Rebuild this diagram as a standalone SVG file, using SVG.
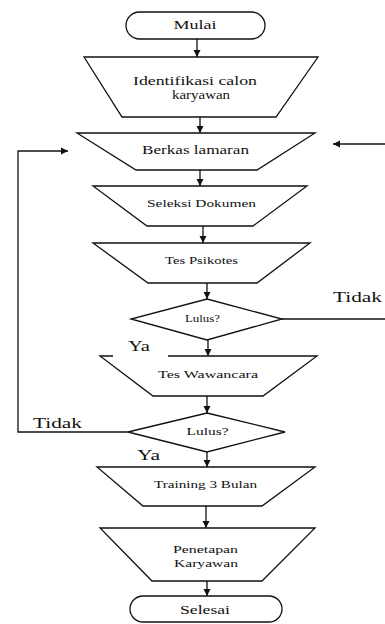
<svg xmlns="http://www.w3.org/2000/svg" width="385" height="624" viewBox="0 0 385 624">
<style>
.s{fill:#fff;stroke:#111;stroke-width:1.3}
.c{fill:none;stroke:#111;stroke-width:1.3}
.t{fill:#111;text-anchor:middle}
.lbl{font-size:15px;fill:#111}
</style>
<defs>
<marker id="ah" markerWidth="8" markerHeight="8" refX="7" refY="4" orient="auto" markerUnits="userSpaceOnUse">
<path d="M0,0.5 L7,4 L0,7.5 Z" fill="#111"/>
</marker>
</defs>
<g id="connectors">
<line class="c" x1="197" y1="39" x2="197" y2="57" marker-end="url(#ah)"/>
<line class="c" x1="200" y1="117" x2="200" y2="133" marker-end="url(#ah)"/>
<line class="c" x1="200" y1="170" x2="200" y2="186" marker-end="url(#ah)"/>
<line class="c" x1="203" y1="226" x2="203" y2="243" marker-end="url(#ah)"/>
<line class="c" x1="207" y1="283" x2="207" y2="299" marker-end="url(#ah)"/>
<line class="c" x1="208" y1="340" x2="208" y2="356" marker-end="url(#ah)"/>
<line class="c" x1="207" y1="396" x2="207" y2="413" marker-end="url(#ah)"/>
<line class="c" x1="207" y1="452" x2="207" y2="467" marker-end="url(#ah)"/>
<line class="c" x1="206" y1="506" x2="206" y2="528" marker-end="url(#ah)"/>
<line class="c" x1="207" y1="581" x2="207" y2="596" marker-end="url(#ah)"/>
<line class="c" x1="282" y1="319" x2="385" y2="319"/>
<line class="c" x1="385" y1="144" x2="333" y2="144" marker-end="url(#ah)"/>
<polyline class="c" points="128,432 18,432 18,151 68,151" marker-end="url(#ah)"/>
</g>
<g font-family="Liberation Serif, DejaVu Serif, serif">
<g id="mulai"><rect class="s" x="126" y="12" width="139" height="27" rx="13.5"/><text class="t" x="195" y="29" font-size="13" textLength="43" lengthAdjust="spacingAndGlyphs">Mulai</text></g>
<g id="identifikasi"><polygon class="s" points="84,57 318,57 276,117 122,117"/><text class="t" x="195" y="85" font-size="12.5" textLength="124" lengthAdjust="spacingAndGlyphs">Identifikasi calon</text><text class="t" x="201" y="99" font-size="12.5" textLength="58" lengthAdjust="spacingAndGlyphs">karyawan</text></g>
<g id="berkas"><polygon class="s" points="77,133 315,133 257,170 136,170"/><text class="t" x="195.5" y="154" font-size="12.5" textLength="107" lengthAdjust="spacingAndGlyphs">Berkas lamaran</text></g>
<g id="seleksi"><polygon class="s" points="93,186 307,186 253,226 147,226"/><text class="t" x="201.5" y="207" font-size="11" textLength="109" lengthAdjust="spacingAndGlyphs">Seleksi Dokumen</text></g>
<g id="psikotes"><polygon class="s" points="93,243 310,243 257,283 148,283"/><text class="t" x="201.5" y="264" font-size="11" textLength="73" lengthAdjust="spacingAndGlyphs">Tes Psikotes</text></g>
<g id="lulus1"><polygon class="s" points="207,299 282,319 207,340 131,319"/><text class="t" x="202.5" y="322" font-size="10" textLength="35" lengthAdjust="spacingAndGlyphs">Lulus?</text></g>
<g id="wawancara"><polygon class="s" points="100,356 317,356 263,396 153,396"/><text class="t" x="208" y="378" font-size="11" textLength="100" lengthAdjust="spacingAndGlyphs">Tes Wawancara</text></g>
<g id="lulus2"><polygon class="s" points="207,413 285,432 207,452 128,432"/><text class="t" x="207.5" y="435" font-size="10" textLength="42" lengthAdjust="spacingAndGlyphs">Lulus?</text></g>
<g id="training"><polygon class="s" points="97,467 315,467 262,506 143,506"/><text class="t" x="205.5" y="488" font-size="11" textLength="103" lengthAdjust="spacingAndGlyphs">Training 3 Bulan</text></g>
<g id="penetapan"><polygon class="s" points="100,528 315,528 262,581 152,581"/><text class="t" x="205.5" y="553" font-size="11" textLength="65" lengthAdjust="spacingAndGlyphs">Penetapan</text><text class="t" x="206" y="567" font-size="11" textLength="64" lengthAdjust="spacingAndGlyphs">Karyawan</text></g>
<g id="selesai"><rect class="s" x="130" y="596" width="152" height="26" rx="13"/><text class="t" x="205" y="614" font-size="12" textLength="50" lengthAdjust="spacingAndGlyphs">Selesai</text></g>
<g id="labels">
<text class="lbl" x="333" y="302" textLength="49" lengthAdjust="spacingAndGlyphs">Tidak</text>
<rect x="113" y="338" width="55" height="19" fill="#fff"/>
<text class="lbl" x="128" y="351" textLength="22" lengthAdjust="spacingAndGlyphs">Ya</text>
<text class="lbl" x="33" y="428" textLength="49" lengthAdjust="spacingAndGlyphs">Tidak</text>
<text class="lbl" x="137" y="460" textLength="23" lengthAdjust="spacingAndGlyphs">Ya</text>
</g>
</g>
</svg>
